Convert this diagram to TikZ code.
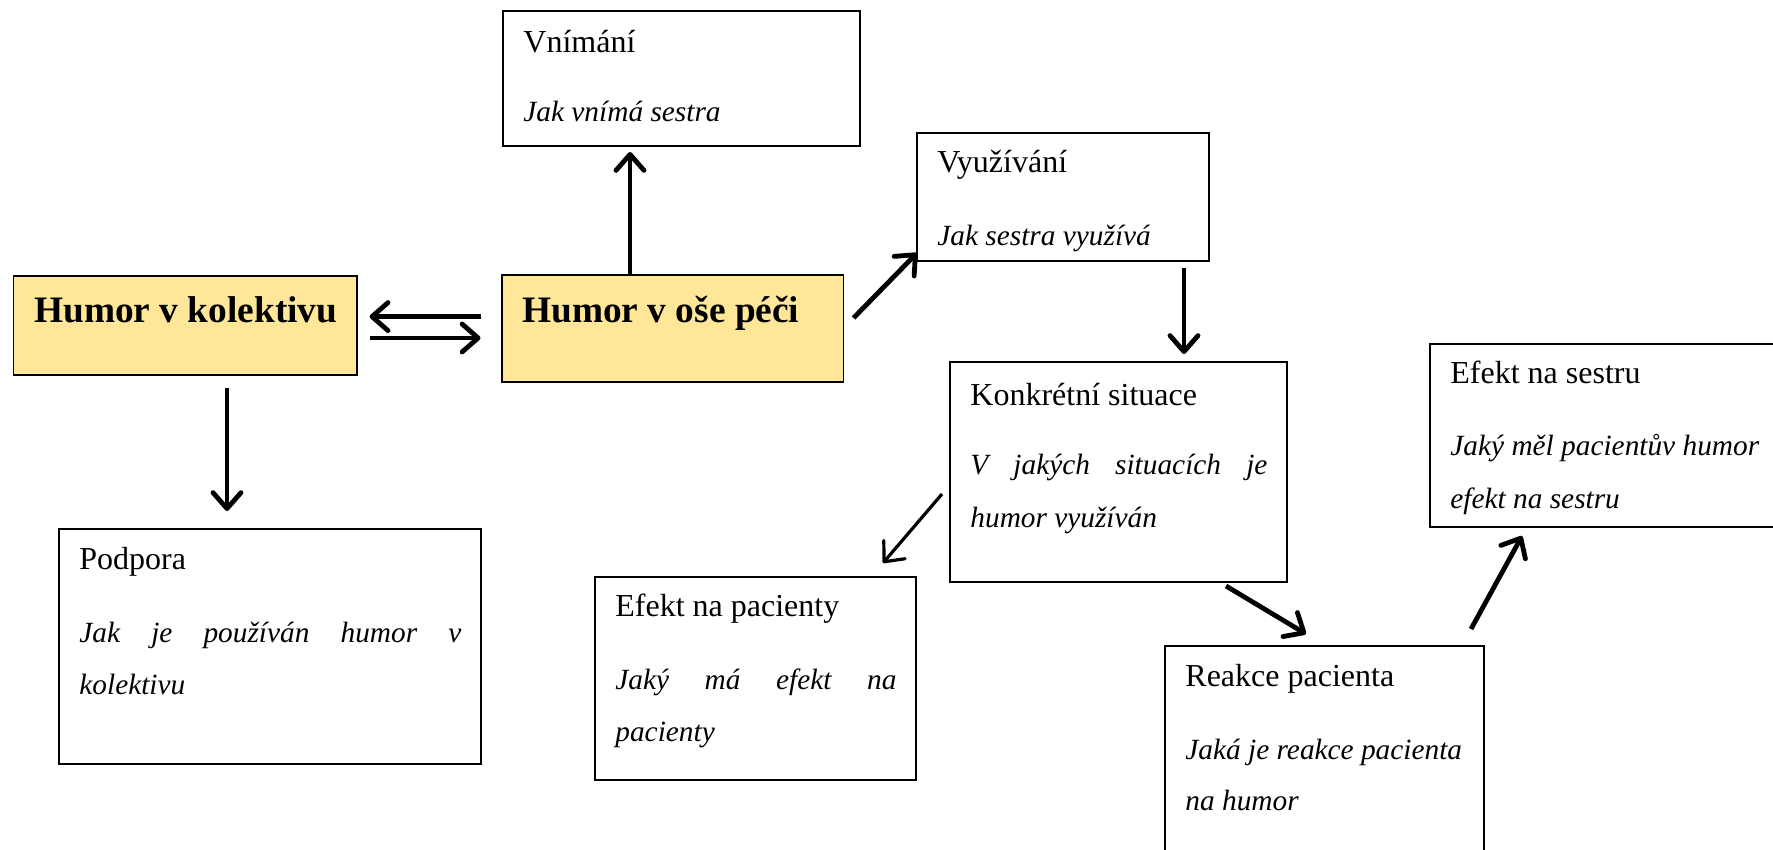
\documentclass[tikz,border=0pt]{standalone}
\usepackage{fontspec}
\setmainfont{Liberation Serif}
\usetikzlibrary{arrows.meta,calc}
\definecolor{boxyellow}{RGB}{255,230,153}
\tikzset{
  box/.style={draw, line width=0.8pt, inner sep=0pt, outer sep=0pt, anchor=north west},
  ybox/.style={box, fill=boxyellow},
  ttl/.style={anchor=base west, inner sep=0pt, font=\fontsize{16pt}{19pt}\selectfont},
  btl/.style={anchor=base west, inner sep=0pt, font=\fontsize{18.67pt}{22pt}\selectfont\bfseries},
  bdy/.style={anchor=base west, inner sep=0pt, font=\fontsize{14.67pt}{18pt}\selectfont\itshape},
  arr/.style={line width=2.4pt, -{Straight Barb[length=8pt,width=14pt,round]}},
  tarr/.style={arr, line width=1.6pt}
}
\begin{document}
\begin{tikzpicture}[x=0.5pt,y=-0.5pt]
\useasboundingbox[fill=white] (0,0) rectangle (1773,850);
% boxes
\node[ybox, minimum width=171.7pt, minimum height=49.5pt] (hk) at (13.6,276) {};
\node[ybox, minimum width=170.75pt, minimum height=53.5pt] (ho) at (502,275) {};
\node[box, minimum width=178.5pt, minimum height=67.5pt] (vn) at (503,11) {};
\node[box, minimum width=146pt, minimum height=64pt] (vy) at (917,133) {};
\node[box, minimum width=168.5pt, minimum height=110pt] (ks) at (950,362) {};
\node[box, minimum width=180pt, minimum height=91.5pt] (es) at (1430,344) {};
\node[box, minimum width=211pt, minimum height=117.5pt] (po) at (59,529) {};
\node[box, minimum width=160.5pt, minimum height=101.5pt] (ep) at (595,577) {};
\node[box, minimum width=159.5pt, minimum height=112pt] (rp) at (1165,646) {};
% texts
\node[btl] (hkt) at (34,322) {Humor v kolektivu};
\node[btl] (hot) at (522,322) {Humor v oše péči};
\node[ttl] (vnt) at (523,53) {Vnímání};
\node[bdy] (vnb) at (523,122) {Jak vnímá sestra};
\node[ttl] (vyt) at (937,173) {Využívání};
\node[bdy] (vyb) at (937,246) {Jak sestra využívá};
\node[ttl] (kst) at (970,405) {Konkrétní situace};
\node[bdy] (ksb1) at (970,474) {\makebox[148.5pt][s]{V jakých situacích je}};
\node[bdy] (ksb2) at (970,527) {humor využíván};
\node[ttl] (est) at (1450,384) {Efekt na sestru};
\node[bdy] (esb1) at (1450,455) {Jaký měl pacientův humor};
\node[bdy] (esb2) at (1450,508) {efekt na sestru};
\node[ttl] (pot) at (79,569) {Podpora};
\node[bdy] (pob1) at (79,642) {\makebox[191pt][s]{Jak je používán humor v}};
\node[bdy] (pob2) at (79,694) {kolektivu};
\node[ttl] (ept) at (615,616) {Efekt na pacienty};
\node[bdy] (epb1) at (615,689) {\makebox[140.5pt][s]{Jaký má efekt na}};
\node[bdy] (epb2) at (615,741) {pacienty};
\node[ttl] (rpt) at (1185,686) {Reakce pacienta};
\node[bdy] (rpb1) at (1185,759) {Jaká je reakce pacienta};
\node[bdy] (rpb2) at (1185,810) {na humor};
% connectors
\draw[arr] ($(ho.north west)+(128,0)$) -- ($(vn.south west)+(127,6)$);
\draw[arr] ($(ho.north east)+(10,43)$) -- ($(vy.south west)+(0,-8)$);
\draw[arr] ($(vy.south west)+(267,7)$) -- ($(ks.north west)+(234,-8)$);
\draw[tarr] ($(ks.north west)+(-8,132)$) -- ($(ep.north west)+(288,-14)$);
\draw[arr] ($(ks.south west)+(276,4)$) -- ($(rp.north west)+(141,-12)$);
\draw[arr] ($(rp.north east)+(-13,-17)$) -- ($(es.south west)+(92,9)$);
\draw[arr] ($(ho.north west)+(-21.5,41.6)$) -- ($(hk.north east)+(12.6,40.6)$);
\draw[arr] ($(hk.north east)+(12.6,62)$) -- ($(ho.north west)+(-21.5,63)$);
\draw[arr] ($(hk.south west)+(213.4,13)$) -- ($(po.north west)+(168,-18)$);
\end{tikzpicture}
\end{document}
